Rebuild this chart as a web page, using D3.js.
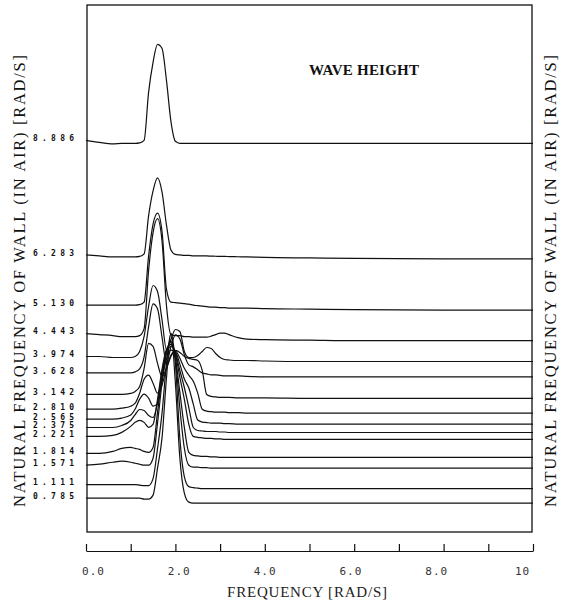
<!DOCTYPE html>
<html>
<head>
<meta charset="utf-8">
<script src="https://cdn.jsdelivr.net/npm/d3@7"></script>
<style>
  body { margin: 0; background: #fff; }
  svg { display: block; }
  .ridge { fill: none; stroke: #111; stroke-width: 1.2; }
</style>
</head>
<body>
<svg id="chart"></svg>
<script>
// frequency grid (rad/s) the spectra were read on
const FREQ = [0, 0.3, 0.6, 0.8, 1.0, 1.1, 1.2, 1.3, 1.4, 1.5, 1.6, 1.7, 1.8, 1.9, 2.0, 2.1, 2.2, 2.3, 2.4, 2.5,
  2.6, 2.7, 2.8, 2.9, 3.0, 3.1, 3.2, 3.4, 3.6, 4.0, 5.0, 6.0, 8.0, 10.0];

// natural frequency of the wall (in air) for each trace
const WALL_FREQ = [8.886, 6.283, 5.130, 4.443, 3.974, 3.628, 3.142, 2.810, 2.565, 2.375, 2.221, 1.814, 1.571, 1.111, 0.785];

// wave height spectra, one per wall frequency
const h8886 = [.03, .01, -.005, 0, 0, 0, .005, .03, .51, .81, .99, .95, .63, .22, .02, 0, 0, 0, 0, 0,
  0, 0, 0, 0, 0, 0, 0, 0, 0, 0, 0, 0, 0, 0];
const h6283 = [.04, .03, .02, .02, .02, .02, .025, .05, .43, .68, .81, .67, .34, .09, .045, .04, .035, .035, .03, .03,
  .03, .03, .028, .027, .025, .025, .024, .022, .02, .015, .01, .005, 0, 0];
const h5130 = [.05, .05, .05, .05, .05, .05, .055, .08, .54, .86, .97, .79, .21, .08, .075, .07, .065, .06, .05, .045,
  .04, .035, .03, .03, .025, .025, .02, .02, .02, .015, .01, .005, 0, 0];
const h4443 = [.07, .06, .05, .04, .04, .04, .05, .12, .7, 1.08, 1.22, 1.0, .35, .06, .05, .05, .04, .04, .035, .035,
  .035, .035, .045, .06, .075, .075, .06, .03, .015, .01, .005, 0, 0, 0];
const h3974 = [.05, .05, .04, .04, .04, .05, .1, .25, .55, .76, .7, .42, .12, .22, .32, .3, .1, .04, .04, .06,
  .1, .14, .13, .08, .04, .02, .015, .01, .01, .005, 0, 0, 0, 0];
const h3628 = [.04, .04, .04, .04, .04, .05, .08, .2, .5, .73, .68, .4, .14, .3, .42, .38, .22, .12, .1, .07,
  .04, .03, .02, .02, .015, .01, .01, .01, .005, 0, 0, 0, 0, 0];
const h3142 = [.04, .04, .04, .04, .05, .07, .12, .3, .55, .52, .35, .22, .3, .42, .48, .46, .42, .4, .39, .38,
  .28, .04, .02, .015, .01, .01, .01, .005, .005, .005, 0, 0, 0, 0];
const h2810 = [.04, .04, .04, .05, .07, .1, .2, .34, .38, .3, .2, .28, .45, .58, .62, .55, .45, .38, .32, .2,
  .04, .02, .015, .01, .01, .01, .005, .005, 0, 0, 0, 0, 0, 0];
const h2565 = [.05, .05, .05, .06, .09, .15, .25, .3, .26, .18, .2, .45, .65, .74, .72, .6, .45, .36, .2, .04,
  .02, .015, .01, .01, .01, .005, .005, 0, 0, 0, 0, 0, 0, 0];
const h2375 = [.05, .05, .05, .07, .12, .18, .23, .22, .17, .15, .3, .6, .8, .86, .8, .62, .45, .25, .05, .02,
  .015, .01, .01, .01, .005, .005, 0, 0, 0, 0, 0, 0, 0, 0];
const h2221 = [.03, .03, .04, .07, .13, .17, .19, .17, .12, .15, .4, .7, .9, .95, .85, .62, .4, .15, .03, .02,
  .015, .01, .01, .005, .005, 0, 0, 0, 0, 0, 0, 0, 0, 0];
const h1814 = [.04, .04, .06, .09, .1, .09, .08, .06, .05, .1, .45, .8, 1.05, 1.15, 1.0, .65, .3, .05, .02, .015,
  .01, .01, .005, .005, 0, 0, 0, 0, 0, 0, 0, 0, 0, 0];
const h1571 = [.03, .04, .06, .07, .06, .05, .04, .03, .03, .1, .45, .85, 1.15, 1.27, 1.1, .6, .2, .03, .01, .01,
  .005, .005, 0, 0, 0, 0, 0, 0, 0, 0, 0, 0, 0, 0];
const h1111 = [.04, .04, .04, .04, .04, .04, .035, .03, .03, .1, .4, .75, 1.25, 1.55, 1.25, .5, .12, .02, .01, .005,
  0, 0, 0, 0, 0, 0, 0, 0, 0, 0, 0, 0, 0, 0];
const h0785 = [.05, .05, .05, .05, .05, .05, .05, .04, .04, .08, .35, .65, 1.25, 1.7, 1.2, .45, .1, .01, 0, 0,
  0, 0, 0, 0, 0, 0, 0, 0, 0, 0, 0, 0, 0, 0];

const SPECTRA = [h8886, h6283, h5130, h4443, h3974, h3628, h3142, h2810, h2565, h2375, h2221, h1814, h1571, h1111, h0785];

const X_TICKS = [0, 1, 2, 3, 4, 5, 6, 7, 8, 9, 10];
const X_LABEL_VALUES = [0, 2, 4, 6, 8, 10];
const X_LABELS = ["0.0", "2.0", "4.0", "6.0", "8.0", "10"];

const Y_TITLE = "NATURAL FREQUENCY OF WALL (IN AIR) [RAD/S]";
const X_TITLE = "FREQUENCY [RAD/S]";
const CHART_TITLE = "WAVE HEIGHT";

const width = 562;
const height = 609;

const svg = d3.select("#chart").attr("width", width).attr("height", height);

const x = d3.scaleLinear().domain([0, 10]).range([86, 533]);
// printed tick numbers sit on a slightly narrower spacing than the ticks
const xLabel = d3.scaleLinear().domain([0, 10]).range([93, 522]);
const y = d3.scaleLinear().domain([0, 12]).range([538, 5]);
const h = d3.scaleLinear().domain([0, 1]).range([0, 100]);

// plot frame
svg.append("rect")
  .attr("x", 87).attr("y", 5)
  .attr("width", 445).attr("height", 527)
  .attr("fill", "none")
  .attr("stroke", "#111")
  .attr("stroke-width", 1.3);

const data = WALL_FREQ.map((wf, i) => ({
  wall: wf,
  values: FREQ.map((f, j) => [f, SPECTRA[i][j]]),
}));

const line = (wf) => d3.line()
  .x((d) => x(d[0]))
  .y((d) => y(wf) - h(d[1]))
  .curve(d3.curveMonotoneX);

svg.append("g")
  .selectAll("path")
  .data(data)
  .join("path")
  .attr("class", "ridge")
  .attr("d", (d) => line(d.wall)(d.values));

// wall frequency labels at the left end of each trace
const fmt = d3.format(".3f");
svg.append("g")
  .selectAll("text")
  .data(data)
  .join("text")
  .attr("x", 33)
  .attr("y", (d) => y(d.wall) - h(d.values[0][1]) - 2)
  .attr("dy", "0.35em")
  .attr("textLength", 41)
  .attr("lengthAdjust", "spacing")
  .style("font-family", "DejaVu Sans Mono")
  .style("font-weight", "bold")
  .style("font-size", "8px")
  .attr("fill", "#111")
  .text((d) => fmt(d.wall));

// frequency axis below the frame
const axisG = svg.append("g")
  .attr("transform", "translate(0,551)")
  .call(d3.axisTop(x).tickValues(X_TICKS).tickFormat("").tickSize(7).tickSizeOuter(0));
axisG.select(".domain").attr("stroke", "#111").attr("stroke-width", 1.2);
axisG.selectAll(".tick line").attr("stroke", "#111").attr("stroke-width", 1.2);

const labelG = svg.append("g")
  .attr("transform", "translate(0,551)")
  .call(d3.axisBottom(xLabel).tickValues(X_LABEL_VALUES)
    .tickFormat((d, i) => X_LABELS[i]).tickSize(0).tickPadding(16));
labelG.select(".domain").remove();
labelG.selectAll("text")
  .style("font-family", "DejaVu Sans Mono")
  .style("font-size", "11px")
  .style("letter-spacing", "1px")
  .attr("fill", "#333");

svg.append("text")
  .attr("x", 307).attr("y", 597)
  .attr("text-anchor", "middle")
  .attr("textLength", 160)
  .attr("lengthAdjust", "spacing")
  .style("font-family", "Liberation Serif")
  .style("font-size", "15px")
  .attr("fill", "#222")
  .text(X_TITLE);

// rotated titles on both sides
[25, 556].forEach((tx) => {
  svg.append("text")
    .attr("transform", `translate(${tx},281) rotate(-90)`)
    .attr("text-anchor", "middle")
    .attr("textLength", 452)
    .attr("lengthAdjust", "spacing")
    .style("font-family", "Liberation Serif")
    .style("font-size", "16.5px")
    .attr("fill", "#111")
    .text(Y_TITLE);
});

svg.append("text")
  .attr("x", 364).attr("y", 75)
  .attr("text-anchor", "middle")
  .attr("textLength", 110)
  .attr("lengthAdjust", "spacing")
  .style("font-family", "Liberation Serif")
  .style("font-weight", "bold")
  .style("font-size", "15px")
  .attr("fill", "#111")
  .text(CHART_TITLE);
</script>
</body>
</html>
